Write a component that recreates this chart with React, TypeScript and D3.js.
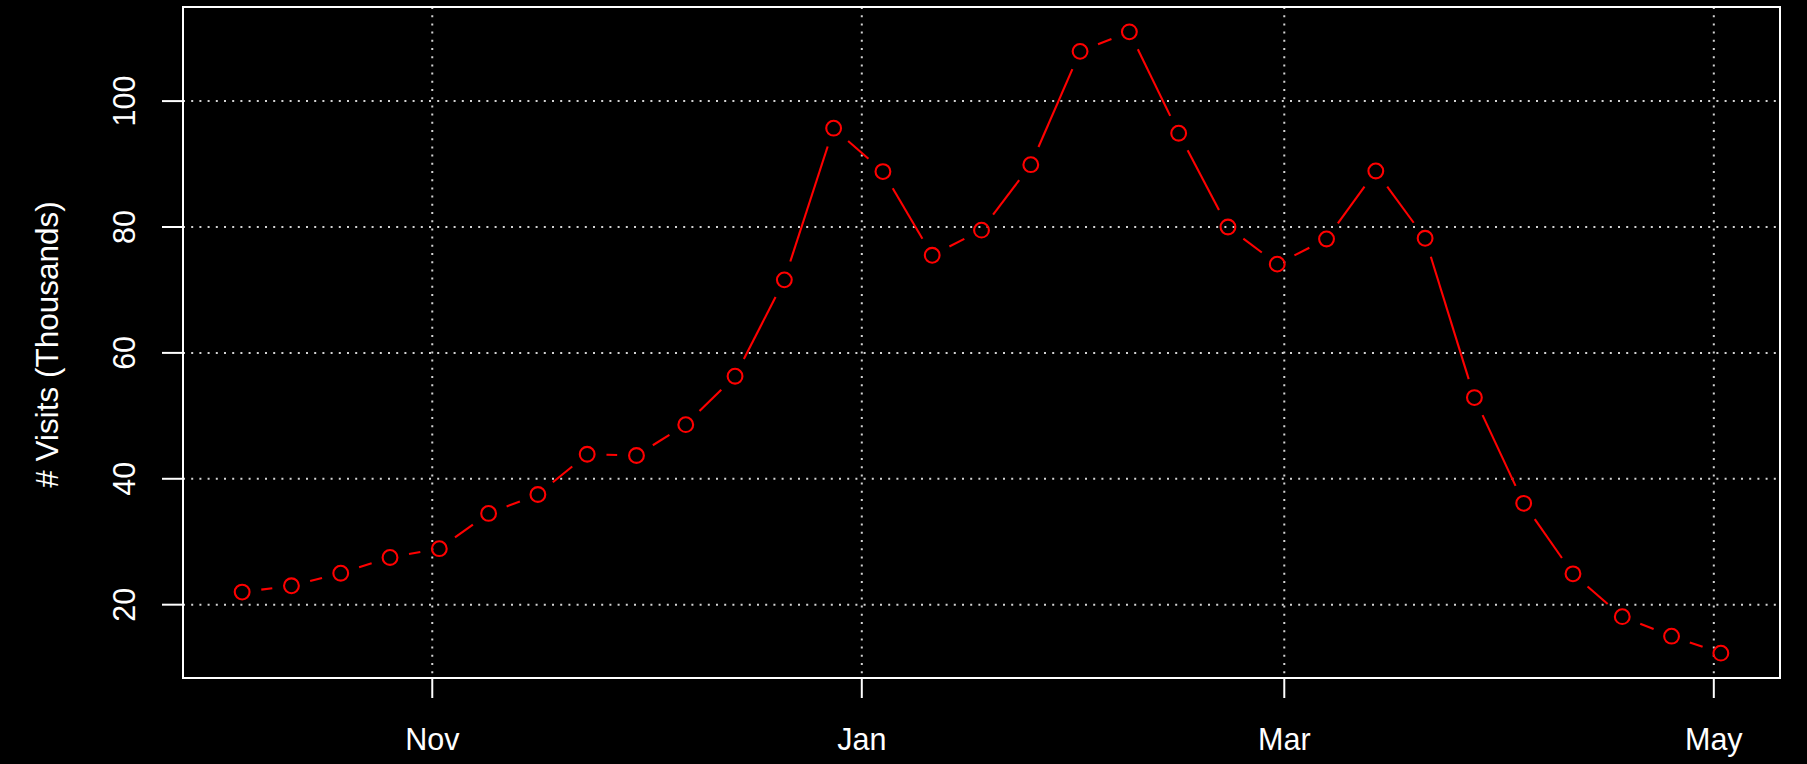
import React from "react";
import * as d3 from "d3";

const weekDates: string[] = [
  "2015-10-05", "2015-10-12", "2015-10-19", "2015-10-26", "2015-11-02", "2015-11-09",
  "2015-11-16", "2015-11-23", "2015-11-30", "2015-12-07", "2015-12-14", "2015-12-21",
  "2015-12-28", "2016-01-04", "2016-01-11", "2016-01-18", "2016-01-25", "2016-02-01",
  "2016-02-08", "2016-02-15", "2016-02-22", "2016-02-29", "2016-03-07", "2016-03-14",
  "2016-03-21", "2016-03-28", "2016-04-04", "2016-04-11", "2016-04-18", "2016-04-25",
  "2016-05-02",
];

const visits: number[] = [
  22.0, 23.0, 25.0, 27.5, 28.9, 34.5, 37.5, 43.9, 43.7, 48.6, 56.3, 71.6, 95.7, 88.8,
  75.5, 79.5, 89.9, 107.9, 111.0, 94.9, 80.0, 74.1, 78.1, 88.9, 78.2, 52.9, 36.1, 24.9,
  18.1, 15.0, 12.3,
];

const xTickDates: string[] = ["2015-11-01", "2016-01-01", "2016-03-01", "2016-05-01"];
const xTickLabels: string[] = ["Nov", "Jan", "Mar", "May"];
const yTicks: number[] = [20, 40, 60, 80, 100];
const yTitle = "# Visits (Thousands)";

const W = 1807;
const H = 764;
const FONT = "'Liberation Sans', Arial, Helvetica, sans-serif";

export default function App() {
  const parse = d3.utcParse("%Y-%m-%d");
  const dates = weekDates.map((s) => parse(s) as Date);
  const tDates = xTickDates.map((s) => parse(s) as Date);

  const left = 183, right = 1780, top = 7, bottom = 678;

  const [d0, d1] = d3.extent(dates) as [Date, Date];
  const span = +d1 - +d0;
  const x = d3
    .scaleUtc()
    .domain([new Date(+d0 - 0.04 * span), new Date(+d1 + 0.04 * span)])
    .range([left, right]);

  const [v0, v1] = d3.extent(visits) as [number, number];
  const vr = v1 - v0;
  const y = d3
    .scaleLinear()
    .domain([v0 - 0.04 * vr, v1 + 0.04 * vr])
    .range([bottom, top]);

  const pts = dates.map((d, i) => [x(d), y(visits[i])] as [number, number]);
  const gap = 19.3;
  const segs: string[] = [];
  for (let i = 0; i < pts.length - 1; i++) {
    const [ax, ay] = pts[i];
    const [bx, by] = pts[i + 1];
    const dx = bx - ax, dy = by - ay;
    const len = Math.hypot(dx, dy);
    if (len <= 2 * gap) continue;
    const ux = dx / len, uy = dy / len;
    const p = d3.path();
    p.moveTo(ax + ux * gap, ay + uy * gap);
    p.lineTo(bx - ux * gap, by - uy * gap);
    segs.push(p.toString());
  }

  const gridColor = "#d3d3d3";
  const dash = "2 6.2";
  const fs = 30.5;

  return (
    <svg
      width={W}
      height={H}
      style={{ position: "fixed", left: 0, top: 0, background: "#000" }}
    >
      <rect x={0} y={0} width={W} height={H} fill="#000" />
      {/* grid */}
      {yTicks.map((t) => (
        <line
          key={"gy" + t}
          x1={left}
          x2={right}
          y1={y(t)}
          y2={y(t)}
          stroke={gridColor}
          strokeWidth={2}
          strokeDasharray={dash}
        />
      ))}
      {tDates.map((d, i) => (
        <line
          key={"gx" + i}
          x1={x(d)}
          x2={x(d)}
          y1={top}
          y2={bottom}
          stroke={gridColor}
          strokeWidth={2}
          strokeDasharray={dash}
        />
      ))}
      {/* series */}
      {segs.map((s, i) => (
        <path key={"s" + i} d={s} stroke="#ff0000" strokeWidth={2.1} fill="none" />
      ))}
      {pts.map(([px, py], i) => (
        <circle key={"c" + i} cx={px} cy={py} r={7.4} fill="none" stroke="#ff0000" strokeWidth={2.1} />
      ))}
      {/* frame */}
      <rect
        x={left}
        y={top}
        width={right - left}
        height={bottom - top}
        fill="none"
        stroke="#fff"
        strokeWidth={2}
      />
      {/* y axis */}
      {yTicks.map((t) => (
        <g key={"yt" + t}>
          <line x1={left - 21} x2={left} y1={y(t)} y2={y(t)} stroke="#fff" strokeWidth={2} />
          <text
            transform={`translate(135,${y(t)}) rotate(-90)`}
            textAnchor="middle"
            fill="#fff"
            fontFamily={FONT}
            fontSize={fs}
          >
            {t}
          </text>
        </g>
      ))}
      <text
        transform={`translate(58,${(top + bottom) / 2 + 2}) rotate(-90)`}
        textAnchor="middle"
        fill="#fff"
        fontFamily={FONT}
        fontSize={31.5}
      >
        {yTitle}
      </text>
      {/* x axis */}
      {tDates.map((d, i) => (
        <g key={"xt" + i}>
          <line x1={x(d)} x2={x(d)} y1={bottom} y2={bottom + 20} stroke="#fff" strokeWidth={2} />
          <text
            x={x(d)}
            y={750}
            textAnchor="middle"
            fill="#fff"
            fontFamily={FONT}
            fontSize={fs}
          >
            {xTickLabels[i]}
          </text>
        </g>
      ))}
    </svg>
  );
}
